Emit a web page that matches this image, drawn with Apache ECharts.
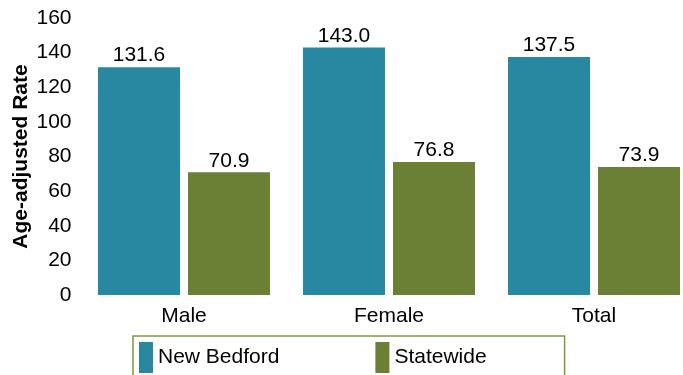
<!DOCTYPE html>
<html>
<head>
<meta charset="utf-8">
<script src="https://cdn.jsdelivr.net/npm/echarts@6/dist/echarts.min.js"></script>
<style>html,body{margin:0;padding:0;background:#fff}#c{width:683px;height:375px}</style>
</head>
<body>
<div id="c"></div>
<script>
var categories = ["Male", "Female", "Total"];
var newBedford = [131.6, 143.0, 137.5];
var statewide = [70.9, 76.8, 73.9];
var yTicks = [0, 20, 40, 60, 80, 100, 120, 140, 160];

var font = "Liberation Sans, Arial, sans-serif";
var fs = 21;
var chart = echarts.init(document.getElementById('c'));
chart.setOption({
  animation: false,
  textStyle: { fontFamily: font },
  grid: { left: 81.5, right: -13.5, top: 18, bottom: 80, outerBoundsMode: 'none', containLabel: false },
  legend: {
    left: 133, top: 336,
    padding: [6, 78, 6, 6],
    borderColor: '#7A9A3C', borderWidth: 1.5,
    itemWidth: 14, itemHeight: 31, itemGap: 96,
    icon: 'rect',
    textStyle: { fontSize: fs, color: '#000', fontFamily: font },
    data: ['New Bedford', 'Statewide']
  },
  xAxis: {
    type: 'category', data: categories,
    axisLine: { show: false }, axisTick: { show: false },
    axisLabel: { fontSize: fs, color: '#000', margin: 11, fontFamily: font }
  },
  yAxis: {
    type: 'value', min: yTicks[0], max: yTicks[yTicks.length - 1], interval: 20,
    name: 'Age-adjusted Rate', nameLocation: 'middle', nameGap: 50, nameMoveOverlap: false,
    nameTextStyle: { fontSize: fs, fontWeight: 'bold', color: '#000', fontFamily: font },
    axisLine: { show: false }, axisTick: { show: false }, splitLine: { show: false },
    axisLabel: { fontSize: fs, color: '#000', margin: 10, fontFamily: font }
  },
  series: [
    {
      name: 'New Bedford', type: 'bar', data: newBedford, barWidth: 82, barGap: '9.75%',
      itemStyle: { color: '#2887A1' },
      label: { show: true, position: 'top', distance: 1, fontSize: fs, color: '#000', fontFamily: font,
        formatter: function (p) { return p.value.toFixed(1); } }
    },
    {
      name: 'Statewide', type: 'bar', data: statewide, barWidth: 82,
      itemStyle: { color: '#6B7F35' },
      label: { show: true, position: 'top', distance: 1, fontSize: fs, color: '#000', fontFamily: font,
        formatter: function (p) { return p.value.toFixed(1); } }
    }
  ]
});
</script>
</body>
</html>
